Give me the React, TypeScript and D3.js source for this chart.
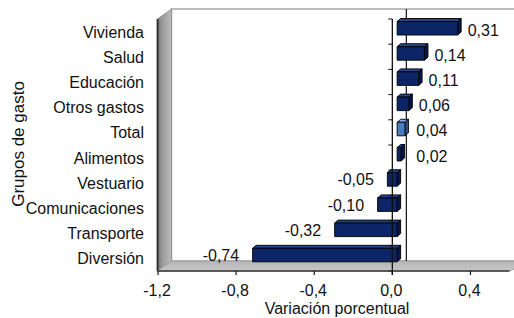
import React from "react";
import * as d3 from "d3";

const categories = ["Vivienda", "Salud", "Educación", "Otros gastos", "Total", "Alimentos", "Vestuario", "Comunicaciones", "Transporte", "Diversión"];
const values = [0.31, 0.14, 0.11, 0.06, 0.04, 0.02, -0.05, -0.1, -0.32, -0.74];
const highlight = ["Total"];
const xTicks = [-1.2, -0.8, -0.4, 0.0, 0.4];
const xDomain = [-1.2, 0.6];

const W = 514;
const H = 318;
const FONT = "'Liberation Sans', Arial, sans-serif";

const fmt = (v: number, d: number) => v.toFixed(d).replace(".", ",");

export default function App() {
  const front = { left: 157.5, right: 509.5, top: 19, bottom: 271 };
  const depth = { dx: 14, dy: -10 };
  const x = d3.scaleLinear().domain(xDomain).range([front.left + 0.5, front.right]);
  const y = d3.scaleBand<string>().domain(categories).range([front.top, front.bottom]).padding(0);
  const x0 = x(0);

  const barDx = 4.8;
  const barInset = 2.5;
  const barH = 13.5;
  const bd = { dx: 3.5, dy: -3 };

  const navy = { front: "#0b2566", top: "#24448c", side: "#06184a" };
  const light = { front: "#4a7cc0", top: "#86aadf", side: "#2b5590" };

  const catTicks = categories.map((c) => y(c)!).concat([front.bottom]);

  return (
    <svg width={W} height={H} style={{ position: "absolute", left: 0, top: 0, background: "#fff" }} fontFamily={FONT}>
      <defs>
        <linearGradient id="wallGrad" x1="0" x2="1" y1="0" y2="0">
          <stop offset="0" stopColor="#6e6e6e" />
          <stop offset="0.3" stopColor="#979797" />
          <stop offset="1" stopColor="#bdbdbd" />
        </linearGradient>
        <linearGradient id="floorGrad" x1="0" x2="0" y1="0" y2="1">
          <stop offset="0" stopColor="#b4b4b4" />
          <stop offset="1" stopColor="#c8c8c8" />
        </linearGradient>
      </defs>

      {/* back wall */}
      <rect x={front.left + depth.dx} y={front.top + depth.dy} width={W} height={front.bottom - front.top} fill="#fff" stroke="#a6a6a6" strokeWidth={1.5} />

      {/* left side wall */}
      <polygon
        points={`${front.left},${front.top} ${front.left + depth.dx},${front.top + depth.dy} ${front.left + depth.dx},${front.bottom + depth.dy} ${front.left},${front.bottom}`}
        fill="url(#wallGrad)"
        stroke="#8a8a8a"
        strokeWidth={0.8}
      />
      <line x1={front.left} x2={front.left} y1={front.top} y2={front.bottom} stroke="#2a2a2a" strokeWidth={1.8} />

      {/* floor */}
      <polygon
        points={`${front.left},${front.bottom} ${front.left + depth.dx},${front.bottom + depth.dy} ${W + 20},${front.bottom + depth.dy} ${front.right},${front.bottom}`}
        fill="url(#floorGrad)"
        stroke="#9a9a9a"
        strokeWidth={0.8}
      />

      {/* back zero line */}
      <line x1={x0 + depth.dx} x2={x0 + depth.dx} y1={front.top + depth.dy} y2={front.bottom + depth.dy} stroke="#111" strokeWidth={1.2} />

      {/* bars */}
      {categories.map((c, i) => {
        const v = values[i];
        const col = highlight.includes(c) ? light : navy;
        const xa = x(Math.min(0, v)) + barDx;
        const xb = x(Math.max(0, v)) + barDx;
        const yt = y(c)! + barInset;
        const topPts = `${xa},${yt} ${xa + bd.dx},${yt + bd.dy} ${xb + bd.dx},${yt + bd.dy} ${xb},${yt}`;
        const sidePts = `${xb},${yt} ${xb + bd.dx},${yt + bd.dy} ${xb + bd.dx},${yt + barH + bd.dy} ${xb},${yt + barH}`;
        return (
          <g key={c} stroke="#000" strokeWidth={0.9} strokeLinejoin="round">
            <polygon points={topPts} fill={col.top} />
            <polygon points={sidePts} fill={col.side} />
            <rect x={xa} y={yt} width={xb - xa} height={barH} fill={col.front} />
          </g>
        );
      })}

      {/* front vertical axis */}
      <line x1={x0} x2={x0} y1={front.top} y2={front.bottom + 4} stroke="#111" strokeWidth={1.3} />
      {catTicks.map((t, i) => (
        <line key={i} x1={x0 - 4} x2={x0} y1={t} y2={t} stroke="#111" strokeWidth={1} />
      ))}

      {/* bottom axis */}
      <line x1={front.left} x2={front.right} y1={front.bottom} y2={front.bottom} stroke="#333" strokeWidth={1.5} />
      {xTicks.map((t) => (
        <g key={t}>
          <line x1={x(t)} x2={x(t)} y1={front.bottom} y2={front.bottom + 4} stroke="#111" strokeWidth={1.2} />
          <text x={x(t) - 1} y={296} textAnchor="middle" fontSize={16} fill="#111">
            {fmt(t, 1)}
          </text>
        </g>
      ))}

      {/* category labels */}
      {categories.map((c) => (
        <text key={c} x={144} y={y(c)! + y.bandwidth() / 2 + 6} textAnchor="end" fontSize={16} fill="#111">
          {c}
        </text>
      ))}

      {/* value labels */}
      {categories.map((c, i) => {
        const v = values[i];
        const cy = y(c)! + y.bandwidth() / 2;
        if (v >= 0) {
          const xb = x(v) + barDx + bd.dx;
          const lx = Math.max(xb + 6.5, x0 + 24);
          return (
            <text key={c} x={lx} y={cy + 4} fontSize={16} fill="#111">
              {fmt(v, 2)}
            </text>
          );
        }
        const xa = x(v) + barDx;
        return (
          <text key={c} x={xa - 13.5} y={cy + 2.5} textAnchor="end" fontSize={16} fill="#111">
            {fmt(v, 2)}
          </text>
        );
      })}

      {/* axis titles */}
      <text transform={`translate(24,144) rotate(-90)`} textAnchor="middle" fontSize={17} fill="#111">
        Grupos de gasto
      </text>
      <text x={337} y={314} textAnchor="middle" fontSize={16} fill="#111">
        Variación porcentual
      </text>
    </svg>
  );
}
